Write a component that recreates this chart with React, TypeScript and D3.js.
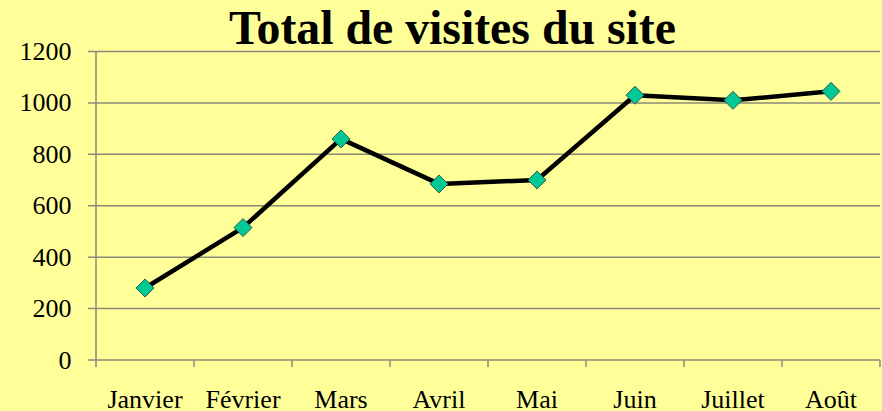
import React from "react";
import * as d3 from "d3";

const categories = ["Janvier", "Février", "Mars", "Avril", "Mai", "Juin", "Juillet", "Août"];
const visits = [280, 515, 860, 685, 700, 1030, 1010, 1045];
const yTicks = [0, 200, 400, 600, 800, 1000, 1200];
const title = "Total de visites du site";

const W = 882;
const H = 411;
const left = 96;
const right = 880;
const top = 51.5;
const bottom = 360;

export default function App() {
  const x = d3.scaleBand<string>().domain(categories).range([left, right]).padding(0);
  const y = d3.scaleLinear().domain([0, 1200]).range([bottom, top]);
  const line = d3
    .line<number>()
    .x((_, i) => (x(categories[i]) as number) + x.bandwidth() / 2)
    .y((d) => y(d));
  const font = "'Liberation Serif', 'Times New Roman', serif";
  const ms = 9;
  return (
    <svg width={W} height={H} style={{ position: "absolute", left: 0, top: 0, display: "block" }}>
      <rect x={0} y={0} width={W} height={H} fill="#FFFF99" />
      <text x={452.5} y={43.5} textAnchor="middle" fontFamily={font} fontWeight="bold" fontSize={48} textLength={447} lengthAdjust="spacingAndGlyphs" fill="#000">
        {title}
      </text>
      {yTicks.map((t) => (
        <g key={t}>
          <line x1={88} x2={right} y1={y(t)} y2={y(t)} stroke="#8a8a7a" strokeWidth={1.5} />
          <text x={71.5} y={y(t) + 8.5} textAnchor="end" fontFamily={font} fontSize={26} fill="#000">
            {t}
          </text>
        </g>
      ))}
      <line x1={left} x2={left} y1={top} y2={bottom} stroke="#8a8a7a" strokeWidth={1.5} />
      {categories.map((c, i) => (
        <line key={"t" + i} x1={x(c) as number} x2={x(c) as number} y1={bottom} y2={bottom + 7} stroke="#8a8a7a" strokeWidth={1.5} />
      ))}
      <line x1={right} x2={right} y1={bottom} y2={bottom + 7} stroke="#8a8a7a" strokeWidth={1.5} />
      {categories.map((c) => (
        <text key={c} x={(x(c) as number) + x.bandwidth() / 2} y={407.5} textAnchor="middle" fontFamily={font} fontSize={26} fill="#000">
          {c}
        </text>
      ))}
      <path d={line(visits) || ""} fill="none" stroke="#000" strokeWidth={4.5} strokeLinejoin="round" />
      {visits.map((v, i) => {
        const cx = (x(categories[i]) as number) + x.bandwidth() / 2;
        const cy = y(v);
        return (
          <path
            key={i}
            d={`M${cx},${cy - ms}L${cx + ms},${cy}L${cx},${cy + ms}L${cx - ms},${cy}Z`}
            fill="#00C896"
            stroke="#2f5a4a"
            strokeWidth={1}
          />
        );
      })}
    </svg>
  );
}
